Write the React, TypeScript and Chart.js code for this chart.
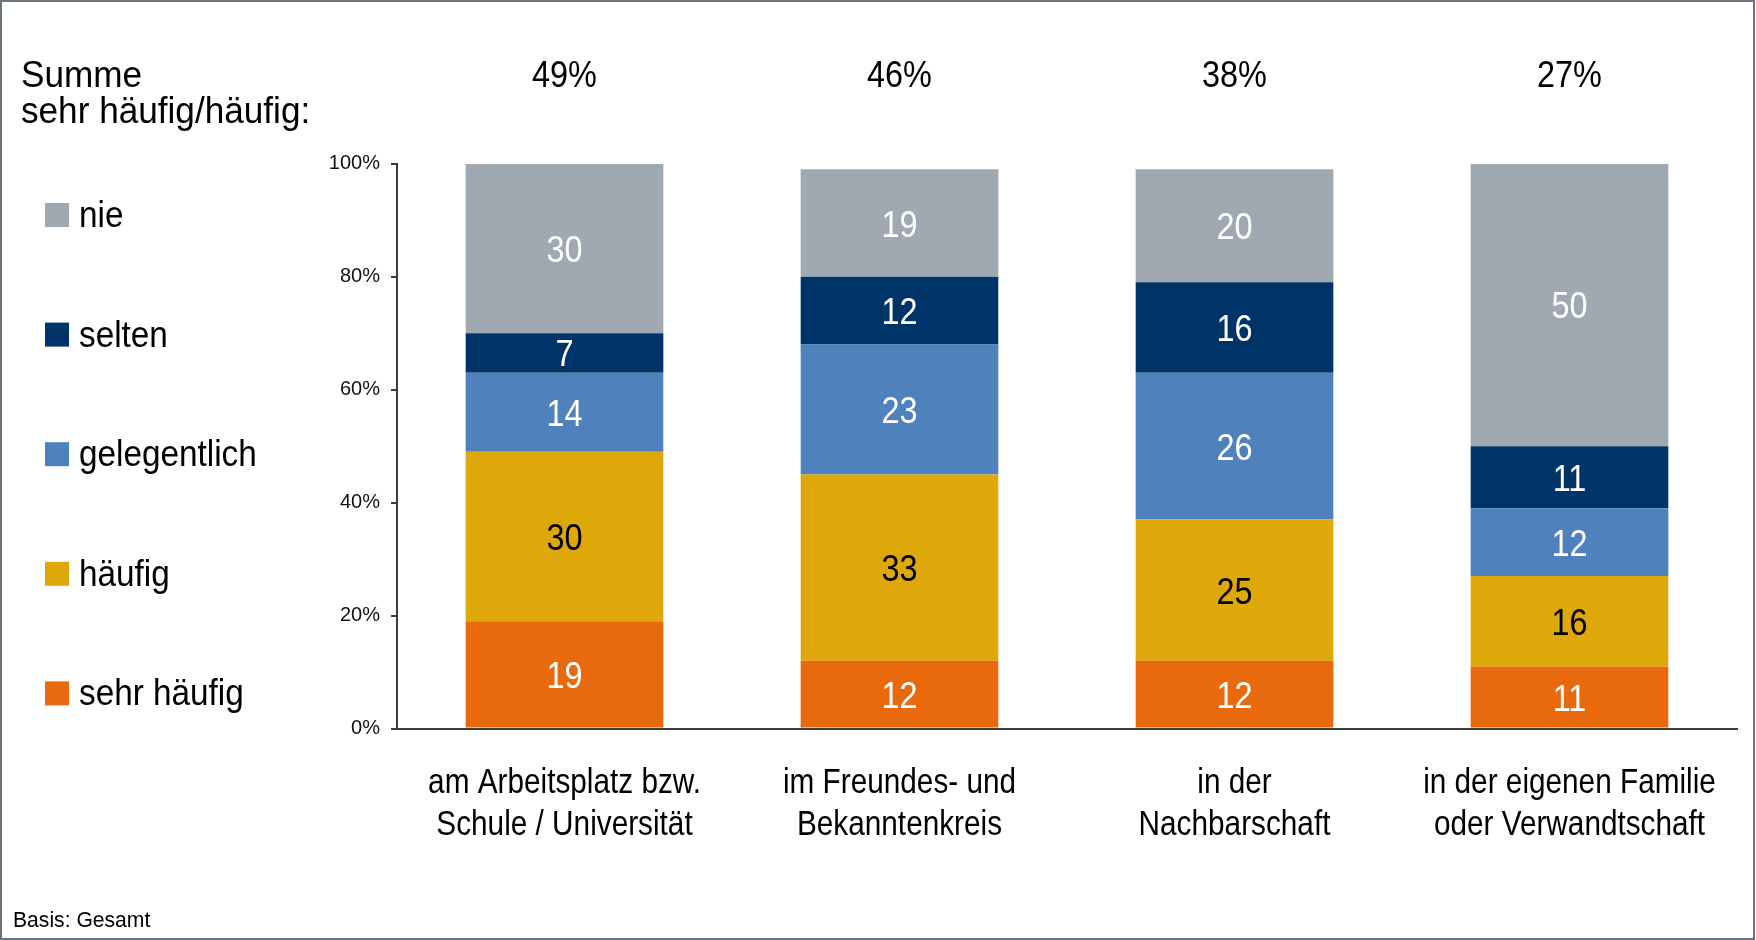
import React, { useEffect, useRef } from 'react';
import { Chart, registerables } from 'chart.js';

Chart.register(...registerables);

// ---------- data ----------
const categories: string[][] = [
  ['am Arbeitsplatz bzw.', 'Schule / Universität'],
  ['im Freundes- und', 'Bekanntenkreis'],
  ['in der', 'Nachbarschaft'],
  ['in der eigenen Familie', 'oder Verwandtschaft'],
];
const seriesNames = ['sehr häufig', 'häufig', 'gelegentlich', 'selten', 'nie'];
const sehrHaeufig = [19, 12, 12, 11];
const haeufig = [30, 33, 25, 16];
const gelegentlich = [14, 23, 26, 12];
const selten = [7, 12, 16, 11];
const nie = [30, 19, 20, 50];
const summeSehrHaeufigHaeufig = [49, 46, 38, 27];
const summeTitle = ['Summe', 'sehr häufig/häufig:'];
const footnote = 'Basis: Gesamt';
const yTickStep = 20;
const yMax = 100;

// ---------- styles ----------
const seriesColors = ['#e9690d', '#dfa80a', '#4f81bd', '#003468', '#a0a8b1'];
const valueLabelColors = ['#ffffff', '#000000', '#ffffff', '#ffffff', '#ffffff'];
const FONT = '"Liberation Sans", Arial, sans-serif';
const AXIS_COLOR = '#3c3c3c';

function drawText(
  ctx: CanvasRenderingContext2D,
  s: string,
  x: number,
  y: number,
  size: number,
  align: CanvasTextAlign,
  sx: number,
  color: string
) {
  ctx.save();
  ctx.font = `${size}px ${FONT}`;
  ctx.fillStyle = color;
  ctx.textAlign = align;
  ctx.textBaseline = 'alphabetic';
  ctx.translate(x, y);
  ctx.scale(sx, 1);
  ctx.fillText(s, 0, 0);
  ctx.restore();
}

const decorPlugin = {
  id: 'decor',
  beforeDraw(chart: any) {
    const ctx = chart.ctx as CanvasRenderingContext2D;
    ctx.save();
    ctx.fillStyle = '#ffffff';
    ctx.fillRect(0, 0, chart.width, chart.height);
    ctx.restore();
  },
  afterDatasetsDraw(chart: any) {
    const ctx = chart.ctx as CanvasRenderingContext2D;
    chart.data.datasets.forEach((ds: any, di: number) => {
      const meta = chart.getDatasetMeta(di);
      meta.data.forEach((bar: any, i: number) => {
        const v = ds.data[i];
        const cy = (bar.y + bar.base) / 2;
        drawText(ctx, String(v), bar.x, cy + 13.5, 36, 'center', 0.9, valueLabelColors[di]);
      });
    });
  },
  afterDraw(chart: any) {
    const ctx = chart.ctx as CanvasRenderingContext2D;
    const xScale = chart.scales.x;

    // header: Summe
    drawText(ctx, summeTitle[0], 21, 87, 37, 'left', 0.95, '#000');
    drawText(ctx, summeTitle[1], 21, 122.5, 37, 'left', 0.95, '#000');
    summeSehrHaeufigHaeufig.forEach((v, i) => {
      drawText(ctx, v + '%', xScale.getPixelForValue(i), 87, 36, 'center', 0.9, '#000');
    });

    // category labels
    categories.forEach((lines, i) => {
      const x = xScale.getPixelForValue(i);
      lines.forEach((ln, li) => {
        drawText(ctx, ln, x, 792.5 + li * 42.5, 35, 'center', 0.85, '#000');
      });
    });

    // legend (top = last dataset)
    const n = chart.data.datasets.length;
    for (let k = 0; k < n; k++) {
      const di = n - 1 - k;
      const ds = chart.data.datasets[di];
      const cy = 215 + k * 119.6;
      ctx.save();
      ctx.fillStyle = ds.backgroundColor;
      ctx.fillRect(45, cy - 12, 24, 24);
      ctx.restore();
      drawText(ctx, ds.label, 79, cy + 12, 37, 'left', 0.9, '#000');
    }

    // footnote
    drawText(ctx, footnote, 13, 927, 22, 'left', 0.96, '#000');

    // frame
    ctx.save();
    ctx.strokeStyle = '#6a747e';
    ctx.lineWidth = 2;
    ctx.strokeRect(1, 1, 1753, 938);
    ctx.restore();
  },
};

export default function App() {
  const canvasRef = useRef<HTMLCanvasElement | null>(null);

  useEffect(() => {
    document.body.style.margin = '0';
    const canvas = canvasRef.current;
    if (!canvas) return;
    const seriesData = [sehrHaeufig, haeufig, gelegentlich, selten, nie];
    const chart = new Chart(canvas, {
      type: 'bar',
      data: {
        labels: categories,
        datasets: seriesNames.map((name, i) => ({
          label: name,
          data: seriesData[i],
          backgroundColor: seriesColors[i],
          borderWidth: 0,
          barPercentage: 0.59,
          categoryPercentage: 1,
        })),
      },
      options: {
        responsive: false,
        animation: false,
        devicePixelRatio: 1,
        layout: { padding: { top: 163.7, bottom: 211.4, left: 0, right: 19 } },
        plugins: {
          legend: { display: false },
          tooltip: { enabled: false },
          title: { display: false },
        },
        scales: {
          x: {
            stacked: true,
            ticks: { display: false },
            grid: { display: false },
            border: { display: true, color: AXIS_COLOR, width: 2 },
            afterFit: (scale: any) => {
              scale.height = 0;
            },
          },
          y: {
            stacked: true,
            min: 0,
            max: yMax,
            ticks: {
              stepSize: yTickStep,
              padding: 11,
              color: '#111',
              font: { family: FONT, size: 20 },
              callback: (v: any) => v + '%',
            },
            grid: {
              drawOnChartArea: false,
              drawTicks: true,
              tickLength: 6,
              color: AXIS_COLOR,
              lineWidth: 2,
            },
            border: { display: true, color: AXIS_COLOR, width: 2 },
            afterFit: (scale: any) => {
              scale.width = 397;
            },
          },
        },
      },
      plugins: [decorPlugin],
    });
    return () => chart.destroy();
  }, []);

  return (
    <canvas
      ref={canvasRef}
      width={1756}
      height={940}
      style={{ display: 'block', width: 1756, height: 940 }}
    />
  );
}
